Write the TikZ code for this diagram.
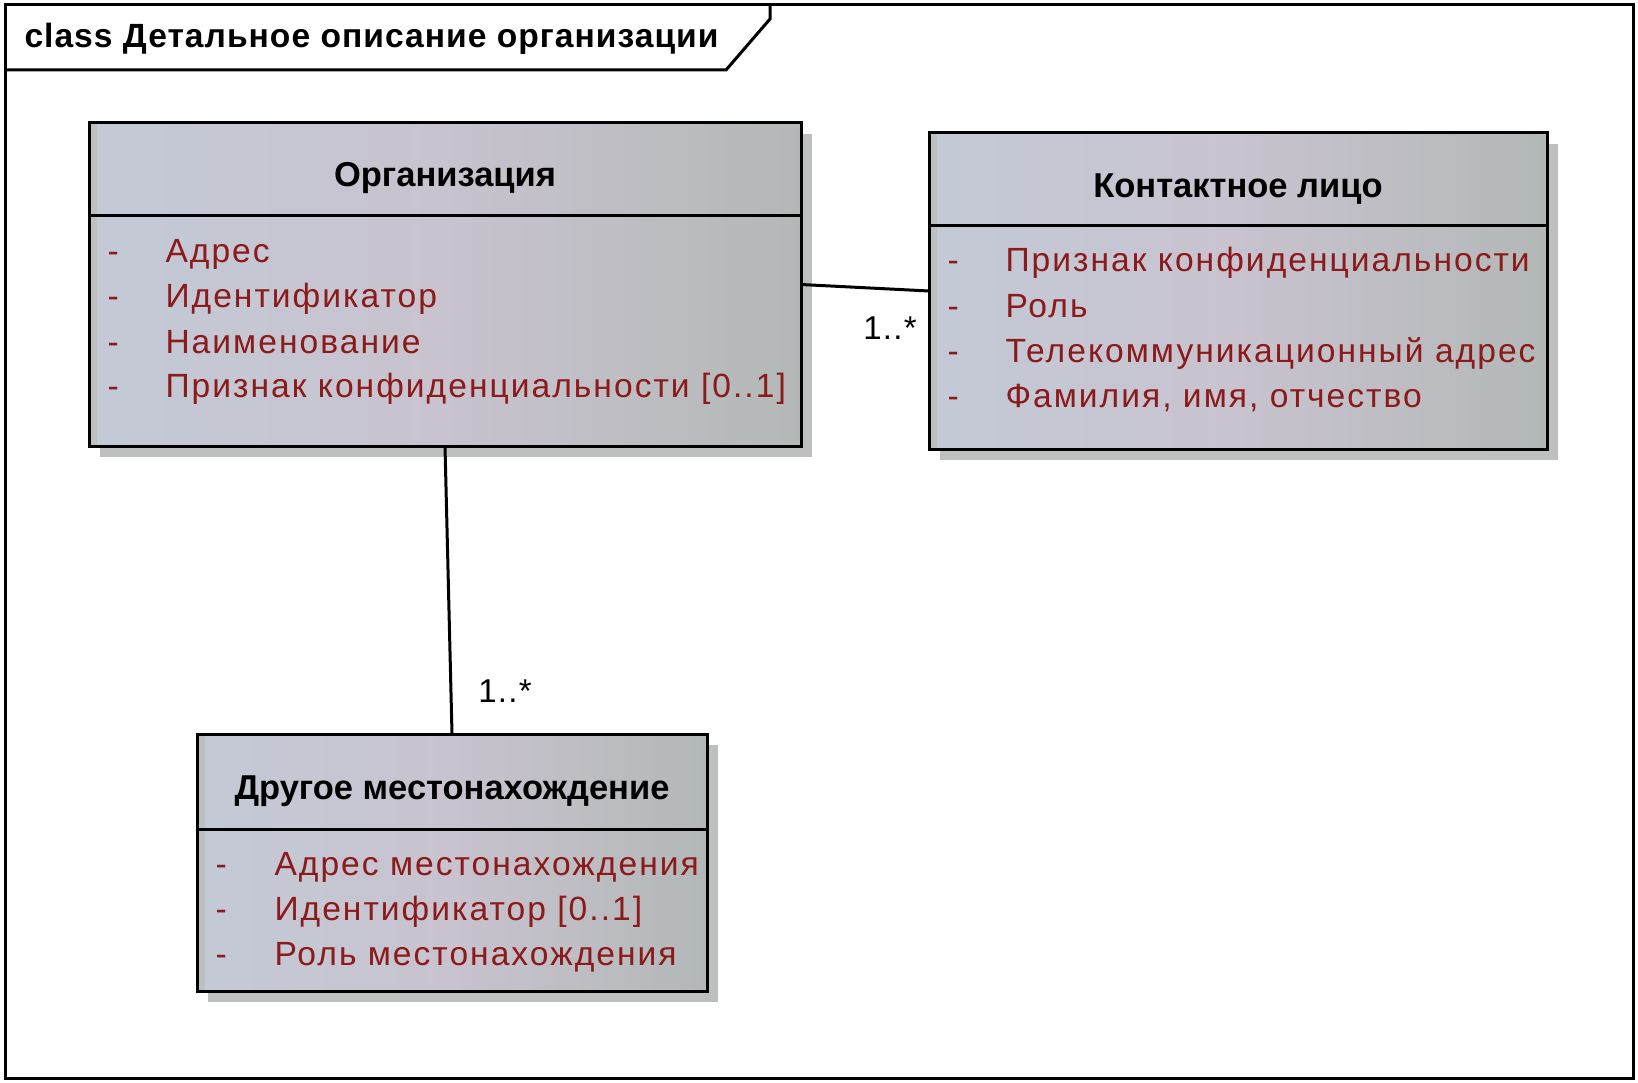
\documentclass[tikz,border=0pt]{standalone}
\usepackage{fontspec}
\setmainfont{Liberation Sans}
\begin{document}
\begin{tikzpicture}[x=1pt,y=-1pt,
  line width=3pt,
  umlbox/.style={draw=black, line width=3pt, rectangle, inner sep=0pt, outer sep=0pt, anchor=north west,
     left color=boxL, right color=boxR, middle color=boxM},
  shadowbox/.style={fill=shadowgray, draw=none, rectangle, inner sep=0pt, outer sep=0pt, anchor=north west},
  hdr/.style={font=\fontsize{34.5}{40}\selectfont\bfseries, text=black, inner sep=0pt, anchor=base},
  attr/.style={font=\fontsize{33.6}{40}\selectfont\addfontfeatures{LetterSpace=6}, text=attrred, inner sep=0pt, anchor=base west},
  dashmark/.style={font=\fontsize{33.6}{40}\selectfont, text=attrred, inner sep=0pt, anchor=base west},
  mult/.style={font=\fontsize{33}{40}\selectfont\addfontfeatures{LetterSpace=4}, text=black, inner sep=0pt, anchor=base}
]
\definecolor{boxL}{HTML}{C3CAD6}
\definecolor{boxM}{HTML}{C8C3CF}
\definecolor{boxR}{HTML}{B3B8B7}
\definecolor{shadowgray}{HTML}{BEC0C0}
\definecolor{attrred}{HTML}{8B1A1A}
\useasboundingbox (0,0) rectangle (1638,1083);
\fill[white] (0,0) rectangle (1638,1083);
% frame
\draw (5,5) rectangle (1633,1078);
\draw (5,70) -- (726,70) -- (770,19) -- (770,5);
\node[font=\fontsize{33.6}{40}\selectfont\bfseries\addfontfeatures{LetterSpace=3}, anchor=base west, inner sep=0pt] (title) at (23,48) {class Детальное описание организации};

% shadows
\node[shadowbox, minimum width=712pt, minimum height=323pt] (orgsh) at (100,134) {};
\node[shadowbox, minimum width=618pt, minimum height=316pt] (consh) at (940,144) {};
\node[shadowbox, minimum width=510pt, minimum height=257pt] (othsh) at (208,745) {};

% boxes
\node[umlbox, minimum width=712pt, minimum height=323pt] (org) at (89,123) {};
\node[umlbox, minimum width=618pt, minimum height=316pt] (con) at (929,133) {};
\node[umlbox, minimum width=510pt, minimum height=257pt] (oth) at (197,734) {};

% left inner gray bands
\fill[shadowgray] ([xshift=1.5pt,yshift=-1.5pt]org.north west) rectangle ([xshift=8pt,yshift=1.5pt]org.south west);
\fill[shadowgray] ([xshift=1.5pt,yshift=-1.5pt]con.north west) rectangle ([xshift=8pt,yshift=1.5pt]con.south west);
\fill[shadowgray] ([xshift=1.5pt,yshift=-1.5pt]oth.north west) rectangle ([xshift=8pt,yshift=1.5pt]oth.south west);

% dividers
\draw (org.west |- 0,216) -- (org.east |- 0,216);
\draw (con.west |- 0,226) -- (con.east |- 0,226);
\draw (oth.west |- 0,829) -- (oth.east |- 0,829);

% headers
\node[hdr] (orgh) at (445,187) {Организация};
\node[hdr] (conh) at (1238,198) {Контактное лицо};
\node[hdr] (othh) at (452,799) {Другое местонахождение};

% org attributes
\foreach \y/\t [count=\i] in {263/Адрес, 308/Идентификатор, 353/Наименование, 397/{Признак конфиденциальности [0..1]}} {
  \node[dashmark] (orgd\i) at (106,\y) {-};
  \node[attr] (orga\i) at (164,\y) {\t};
}
% contact attributes
\foreach \y/\t [count=\i] in {272/Признак конфиденциальности, 317/Роль, 362/Телекоммуникационный адрес, 407/{Фамилия, имя, отчество}} {
  \node[dashmark] (cond\i) at (946,\y) {-};
  \node[attr] (cona\i) at (1004,\y) {\t};
}
% other attributes
\foreach \y/\t [count=\i] in {875/Адрес местонахождения, 920/{Идентификатор [0..1]}, 965/Роль местонахождения} {
  \node[dashmark] (othd\i) at (214,\y) {-};
  \node[attr] (otha\i) at (273,\y) {\t};
}

% connectors
\draw (org.east) -- (con.west);
\draw (org.south) -- (oth.north);
\node[mult] (m1) at (890,339) {1..*};
\node[mult] (m2) at (505,702) {1..*};
\end{tikzpicture}
\end{document}
